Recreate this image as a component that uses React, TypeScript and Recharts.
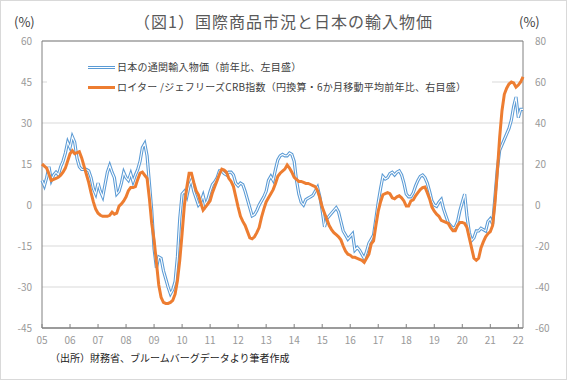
import { LineChart, Line, XAxis, YAxis, CartesianGrid, ReferenceArea } from "recharts";

const yearLabels = ["05", "06", "07", "08", "09", "10", "11", "12", "13", "14", "15", "16", "17", "18", "19", "20", "21", "22"];

// 日本の通関輸入物価（前年比、%、左目盛） 2005/01 - 2022/03
const importPriceYoY = [
  9, 7, 10, 14, 9, 11, 12, 11, 14, 16, 19, 23,
  21, 25, 23, 17, 14, 13, 13, 13, 12.5, 10, 6, 4,
  8, 5, 3, 7.5, 12, 14.5, 12, 10, 4, 5, 8, 12,
  10, 9, 11.5, 8.5, 11, 13, 16, 21, 22.5, 18, 8, -2,
  -16, -23, -19, -19.5, -24, -27, -30, -32.5, -31, -28, -19, -5,
  4, 5, 3, 7, 9, 5, 2.5, 0, 1, 3.5, 0, 2,
  5, 7.5, 8.5, 10, 12.5, 12.5, 11.5, 11, 12, 12, 11, 8,
  7, 8, 7.5, 5, 2, -1, -4, -3.5, -2, 0, 1.5, 3,
  5, 9, 10.5, 9, 13, 16.5, 18, 18.5, 18, 18, 19, 18.5,
  16, 9, 4, 1, 0, 2, 2.5, 3, 3.5, 5, 6.5, 3,
  -2, -8, -5, -4, -3, -2, -1, -2.5, -6, -9.5, -11, -12.5,
  -11.5, -10.5, -16.5, -15.5, -16.5, -18, -19.5, -17, -14, -12.5, -11, -5,
  1, 6, 10.5, 9.5, 10, 11.5, 12, 11, 12, 12.5, 11, 8,
  4, 3, 3, 4.5, 7, 9, 10.5, 11, 10, 8, 5, 1.5,
  0, -0.5, 1, 2, -1.5, -4, -6.5, -7.5, -8.5, -8, -6, -2,
  1, 4, -4, -10, -13, -12, -9.5, -9.5, -8.5, -9, -9.5, -6,
  -5, -7, 3, 13, 20, 22, 24, 26, 28, 31, 36, 39.5,
  32, 35, 35,
];

// ロイター/ジェフリーズCRB指数（円換算・6か月移動平均前年比、%、右目盛）
const crbYoY = [
  20, 19, 18, 15, 12, 12.5, 13, 13.5, 14.5, 16, 18, 21.5,
  25, 26.5, 25, 25.5, 26, 23, 19, 15, 11, 6, 1.5, -2,
  -4, -5, -5.5, -5.5, -5.5, -5, -3.5, -4.5, -4, -0.5, 0.5, 2,
  4, 7, 8.5, 8.5, 9, 12.5, 15.5, 16, 14.5, 13, 3, -9,
  -17, -28, -39, -45, -47.5, -48, -48, -47.5, -46.5, -43.5, -37, -27,
  -14, 0, 8.5, 15.5, 15.5, 11, 7, 5, 1, -2.5, -1, 0.5,
  2, 6, 9, 12, 15, 17.5, 17, 16, 13, 11.5, 9, 4,
  -1, -5.5, -8, -10, -13, -16, -16.5, -15.5, -13.5, -11, -6, -2,
  1.5, 3.5, 5.5, 7.5, 10.5, 14, 15.5, 16.5, 17.5, 19.5, 18, 16,
  13.5, 12.5, 11.5, 11.5, 11, 10.5, 10.5, 10, 9.5, 9, 7, 3.5,
  -1, -4, -7, -10, -12, -13.5, -14.5, -15.5, -17, -20, -22.5, -24,
  -24.5, -25.5, -25.5, -26, -26.5, -27, -28, -26, -24, -19, -17.5, -10,
  -3, 1.5, 5, 5.5, 6, 5.5, 3.5, 3, 4, 4.5, 3.5, 2,
  -0.5, -0.5, 2, 2.5, 4.5, 6, 7.5, 8.5, 8.8, 6, 3, -1,
  -3, -4.5, -5.5, -7.5, -8, -8.5, -9, -11, -12.5, -12.5, -10, -8.5,
  -8.5, -9, -11, -16, -21, -26, -27, -26, -21, -18, -15.5, -14,
  -13, -10, 1, 16, 33, 46, 54, 57, 59, 60, 59.5, 57.5,
  58.5, 60, 62.5,
];

const leftTicks = [-45, -30, -15, 0, 15, 30, 45, 60];
const rightTicks = [-60, -40, -20, 0, 20, 40, 60, 80];

const data = importPriceYoY.map((v, i) => ({
  idx: i,
  importPrice: v,
  importPriceInner: v,
  crb: crbYoY[i],
}));

const yearTicks = yearLabels.map((_, i) => i * 12);

const FONT = "'Noto Sans CJK JP', 'Noto Sans', sans-serif";
const tickStyle = { fontSize: 10, fill: "#999999", fontFamily: FONT };

export default function App() {
  return (
    <div
      style={{
        position: "absolute",
        left: 0,
        top: 0,
        width: 567,
        height: 380,
        boxSizing: "border-box",
        border: "1px solid #d9d9d9",
        background: "#fff",
        fontFamily: FONT,
      }}
    >
      <LineChart
        width={565}
        height={378}
        data={data}
        margin={{ top: 40, right: 13, bottom: 26, left: 1 }}
        style={{ position: "absolute", left: 0, top: 0 }}
      >
        <CartesianGrid yAxisId="left" vertical={false} stroke="#d9d9d9" />
        <XAxis
          type="number"
          dataKey="idx"
          domain={[0, 206]}
          ticks={yearTicks}
          tickFormatter={(v) => yearLabels[v / 12]}
          interval={0}
          height={25}
          tickSize={-4}
          tickMargin={13}
          axisLine={{ stroke: "#808080" }}
          tickLine={{ stroke: "#808080" }}
          tick={tickStyle}
        />
        <YAxis
          yAxisId="left"
          domain={[-45, 60]}
          ticks={leftTicks}
          interval={0}
          width={40}
          axisLine={false}
          tickLine={false}
          tickSize={0}
          tickMargin={10}
          tick={tickStyle}
        />
        <YAxis
          yAxisId="right"
          orientation="right"
          domain={[-60, 80]}
          ticks={rightTicks}
          interval={0}
          width={30}
          axisLine={false}
          tickLine={false}
          tickSize={0}
          tickMargin={12}
          tick={{ ...tickStyle, textAnchor: "start" }}
        />
        <ReferenceArea
          yAxisId="left"
          x1={0}
          x2={206}
          y1={-45}
          y2={60}
          fill="none"
          stroke="#808080"
          strokeWidth={1}
          ifOverflow="visible"
        />
        <Line
          yAxisId="left"
          dataKey="importPrice"
          stroke="#5B9BD5"
          strokeWidth={3.2}
          dot={false}
          isAnimationActive={false}
        />
        <Line
          yAxisId="left"
          dataKey="importPriceInner"
          stroke="#ffffff"
          strokeWidth={1.1}
          dot={false}
          isAnimationActive={false}
        />
        <Line
          yAxisId="right"
          dataKey="crb"
          stroke="#ED7D31"
          strokeWidth={3}
          dot={false}
          isAnimationActive={false}
        />
      </LineChart>

      <div
        style={{
          position: "absolute",
          left: 0,
          top: 10,
          width: 565,
          textAlign: "center",
          fontSize: 16,
          lineHeight: "20px",
          letterSpacing: 1,
          color: "#595959",
        }}
      >
        （図1）国際商品市況と日本の輸入物価
      </div>
      <div style={{ position: "absolute", left: 13, top: 13, fontSize: 13, lineHeight: "16px", color: "#404040" }}>
        (%)
      </div>
      <div style={{ position: "absolute", left: 518, top: 13, fontSize: 13, lineHeight: "16px", color: "#404040" }}>
        (%)
      </div>

      <div
        style={{
          position: "absolute",
          left: 46,
          top: 54,
          width: 445,
          height: 44,
          background: "#fff",
          fontSize: 10,
          color: "#404040",
          letterSpacing: 0.25,
        }}
      >
        <div style={{ position: "absolute", left: 41, top: 11, width: 27, height: 1, border: "1px solid #5B9BD5", borderLeft: "none", borderRight: "none", background: "#fff" }} />
        <div style={{ position: "absolute", left: 70, top: 5, lineHeight: "14px", whiteSpace: "nowrap" }}>
          日本の通関輸入物価（前年比、左目盛）
        </div>
        <div style={{ position: "absolute", left: 41, top: 31, width: 27, height: 3, background: "#ED7D31" }} />
        <div style={{ position: "absolute", left: 70, top: 25, lineHeight: "14px", whiteSpace: "nowrap" }}>
          ロイター /ジェフリーズCRB指数（円換算・6か月移動平均前年比、右目盛）
        </div>
      </div>

      <div
        style={{
          position: "absolute",
          left: 49,
          top: 350,
          fontSize: 10,
          lineHeight: "14px",
          color: "#222",
          whiteSpace: "nowrap",
        }}
      >
        （出所）財務省、ブルームバーグデータより筆者作成
      </div>
    </div>
  );
}
